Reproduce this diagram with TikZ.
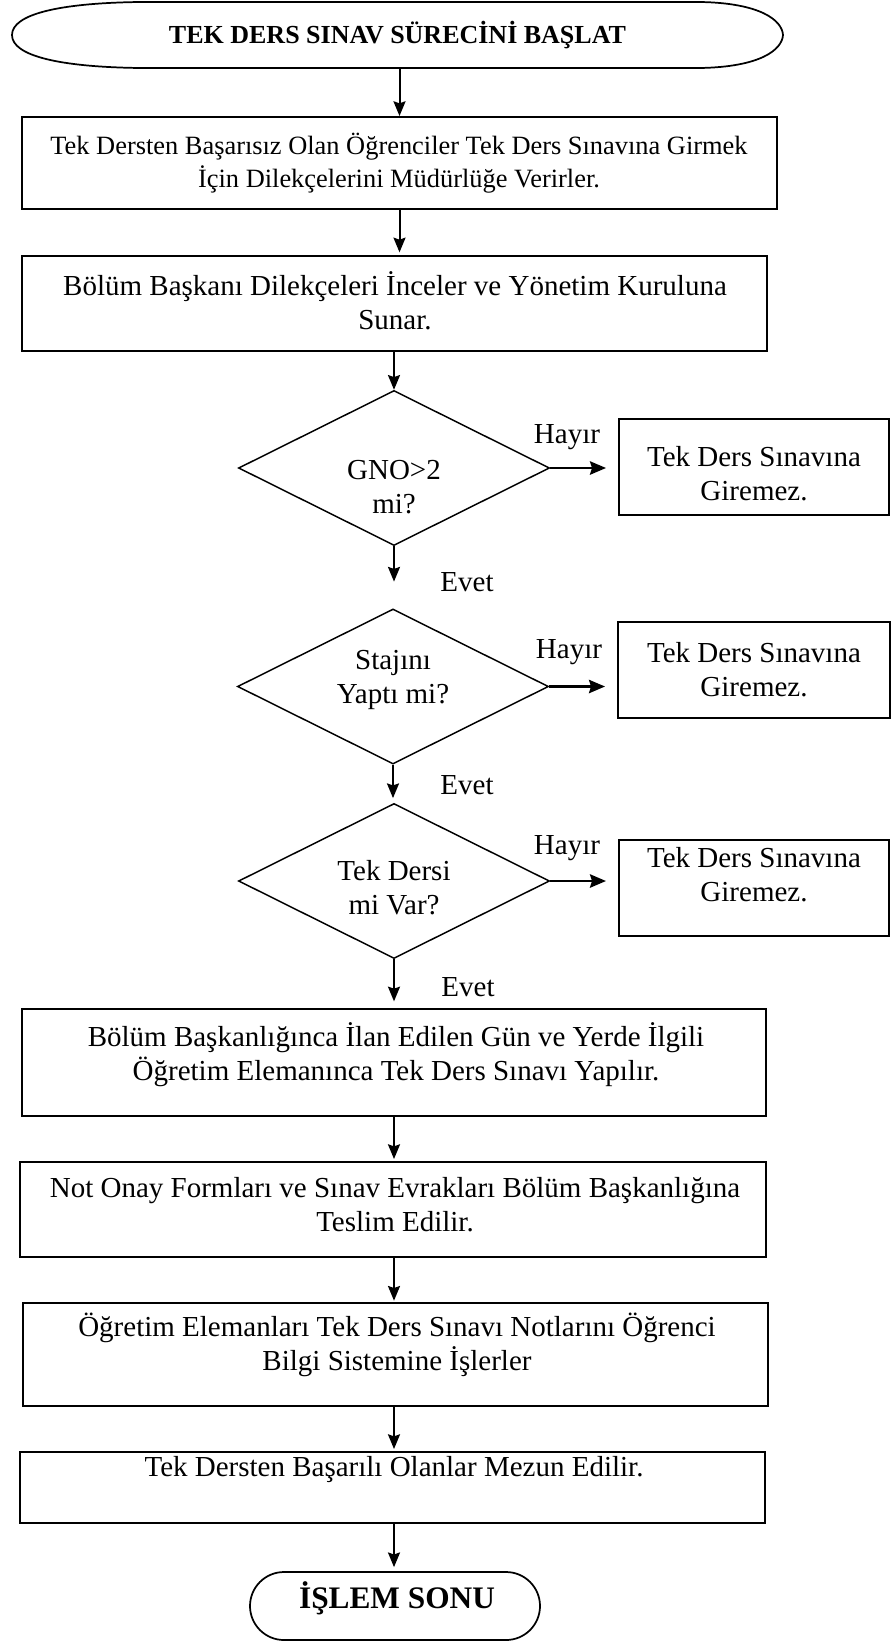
\documentclass[tikz,border=0pt]{standalone}
\usepackage{fontspec}
\setmainfont{Liberation Serif}
\usetikzlibrary{shapes.geometric,shapes.misc,arrows.meta}
\begin{document}
\begin{tikzpicture}[x=0.75pt,y=-0.75pt,
  box/.style={draw, line width=1.5pt, rectangle, inner sep=0pt},
  dia/.style={draw, line width=1.1pt, diamond, inner sep=0pt, minimum width=311*0.75pt, minimum height=155*0.75pt},
  txt/.style={inner sep=0pt, align=center, font=\fontsize{21.75pt}{25.5pt}\selectfont},
  arr/.style={line width=1.5pt, -{Stealth[length=11pt,width=9pt,inset=1.5pt]}},
  harr/.style={line width=1.8pt, -{Stealth[length=12pt,width=10pt,inset=1.5pt]}},
]
\useasboundingbox (0,0) rectangle (891,1641);

% start terminator
\node[inner sep=0pt, minimum width=773*0.75pt, minimum height=66*0.75pt,
      font=\bfseries\fontsize{19.5pt}{23pt}\selectfont] (start) at (397.5,35) {TEK DERS SINAV SÜRECİNİ BAŞLAT};
\draw[line width=1.3pt] (12,35) .. controls (12,14) and (60,3) .. (140,2) -- (700,2)
  .. controls (760,3) and (782,20) .. (783,35) .. controls (782,50) and (760,67) .. (700,68)
  -- (140,68) .. controls (60,67) and (12,56) .. (12,35) -- cycle;

% boxes
\node[box, minimum width=755*0.75pt, minimum height=92*0.75pt] (b1) at (399.5,163) {};
\node[txt, font=\fontsize{19.8pt}{24.75pt}\selectfont] (t1) at (399,163.5)
  {Tek Dersten Başarısız Olan Öğrenciler Tek Ders Sınavına Girmek\\İçin Dilekçelerini Müdürlüğe Verirler.};

\node[box, minimum width=745*0.75pt, minimum height=95*0.75pt] (b2) at (394.5,303.5) {};
\node[txt] (t2) at (395,300.5) {Bölüm Başkanı Dilekçeleri İnceler ve Yönetim Kuruluna\\Sunar.};

% decision 1
\node[dia] (d1) at (394,468) {};
\node[txt] (td1) at (394,487.5) {GNO>2\\mi?};
\node[box, minimum width=270*0.75pt, minimum height=96*0.75pt] (rA) at (754,467) {};
\node[txt] (trA) at (754,473.5) {Tek Ders Sınavına\\Giremez.};
\node[txt] (h1) at (567,437) {Hayır};
\node[txt] (e1) at (467,582) {Evet};

% decision 2
\node[dia] (d2) at (393,686.5) {};
\node[txt] (td2) at (393,680) {Stajını\\Yaptı mi?};
\node[box, minimum width=272*0.75pt, minimum height=96*0.75pt] (rB) at (754,670) {};
\node[txt] (trB) at (754,670) {Tek Ders Sınavına\\Giremez.};
\node[txt] (h2) at (569,652) {Hayır};
\node[txt] (e2) at (467,785) {Evet};

% decision 3
\node[dia] (d3) at (394,881) {};
\node[txt] (td3) at (394,887.5) {Tek Dersi\\mi Var?};
\node[box, minimum width=270*0.75pt, minimum height=96*0.75pt] (rC) at (754,888) {};
\node[txt] (trC) at (754,875) {Tek Ders Sınavına\\Giremez.};
\node[txt] (h3) at (567,848) {Hayır};
\node[txt] (e3) at (468,987) {Evet};

% lower boxes
\node[box, minimum width=744*0.75pt, minimum height=107*0.75pt] (bD) at (394,1062.5) {};
\node[txt] (tD) at (396,1054.5) {Bölüm Başkanlığınca İlan Edilen Gün ve Yerde İlgili\\Öğretim Elemanınca Tek Ders Sınavı Yapılır.};

\node[box, minimum width=746*0.75pt, minimum height=95*0.75pt] (bE) at (393,1209.5) {};
\node[txt] (tE) at (395,1204.5) {Not Onay Formları ve Sınav Evrakları Bölüm Başkanlığına\\Teslim Edilir.};

\node[box, minimum width=745*0.75pt, minimum height=103*0.75pt] (bF) at (395.5,1354.5) {};
\node[txt] (tF) at (397,1344.5) {Öğretim Elemanları Tek Ders Sınavı Notlarını Öğrenci\\Bilgi Sistemine İşlerler};

\node[box, minimum width=745*0.75pt, minimum height=71*0.75pt] (bG) at (392.5,1487.5) {};
\node[txt] (tG) at (394,1470) {Tek Dersten Başarılı Olanlar Mezun Edilir.};

% end terminator
\node[draw, line width=1.3pt, rounded rectangle, inner sep=0pt,
      minimum width=290*0.75pt, minimum height=68*0.75pt] (end) at (395,1606) {};
\node[inner sep=0pt, font=\bfseries\fontsize{23.5pt}{28pt}\selectfont] (tend) at (397,1598) {İŞLEM SONU};

% connectors
\draw[arr] (b1.north |- start.south) -- (b1.north);
\draw[arr, shorten >=2pt] (b1.south) -- (b1.south |- b2.north);
\draw[arr] (d1.north |- b2.south) -- (d1.north);
\draw[arr, shorten >=20pt] (d1.south) -- (d2.north -| d1.south);
\draw[arr, shorten >=3.5pt] (d2.south) -- (d3.north -| d2.south);
\draw[arr, shorten >=5pt] (d3.south) -- (d3.south |- bD.north);
\draw[arr, shorten >=1.5pt] (d3.south |- bD.south) -- (d3.south |- bE.north);
\draw[arr, shorten >=1pt] (d3.south |- bE.south) -- (d3.south |- bF.north);
\draw[arr, shorten >=1.5pt] (d3.south |- bF.south) -- (d3.south |- bG.north);
\draw[arr, shorten >=3pt] (d3.south |- bG.south) -- (d3.south |- end.north);

\draw[harr, shorten >=9pt] (d1.east) -- (d1.east -| rA.west);
\draw[harr, shorten >=9pt] (d2.east) -- (d2.east -| rB.west);
\draw[harr, shorten >=9pt] (d3.east) -- (d3.east -| rC.west);
\end{tikzpicture}
\end{document}
